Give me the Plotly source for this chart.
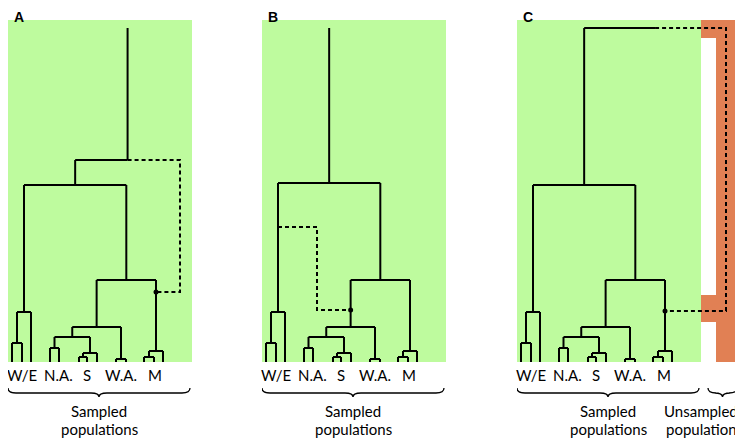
import plotly.graph_objects as go

# ---------------- data ----------------
leaf_labels = ["W/E", "N.A.", "S", "W.A.", "M"]
label_x = [14, 50, 79, 113, 147]          # label centres on the tree axis
leaf_x = [4, 14, 23, 42, 51, 71, 79, 89, 108, 118, 136, 146, 155]  # leaf positions
# internal nodes of the sampled tree: (left child, right child, height)
node_names = ["we_in", "we", "na", "s_in", "s", "nas", "wa", "nasw", "m_in", "m", "clade"]
node_left = ["L0", "we_in", "L3", "L5", "s_in", "na", "L8", "nas", "L10", "m_in", "nasw"]
node_right = ["L1", "L2", "L4", "L6", "L7", "s", "L9", "wa", "L11", "L12", "m"]
node_height = [19, 50, 14, 5, 9, 25, 3, 35, 5, 11, 82]

root_height = 334
split_height = [177, 179, 177]             # W/E vs rest split, panels A, B, C
# panel A: ghost ancestor
a_anc_height, a_ghost_x, a_mig_height = 202, 172, 70
# panel B: migration from W/E branch into N.A./S/W.A. branch
b_src_height, b_bend_x, b_mig_height = 135, 55, 52
# panel C: unsampled population
c_unsampled_x, c_mig_height = 209, 51

panel_letters = ["A", "B", "C"]
group_lines = [["Sampled", "populations"], ["Unsampled", "population"]]

GREEN = "rgb(190,251,158)"
ORANGE = "rgb(225,128,84)"
FONT = "Lato"

# page body has an 8px margin -> figure is 8px smaller, coordinates shifted
OFF = 8
W, H = 743 - OFF, 439 - OFF
fig = go.Figure()

# axes: 1 unit = 1 px
panel_left = [8 - OFF, 262 - OFF, 517 - OFF]
panel_width = [184, 184, 222]
y_lo, y_hi = -77, 362 - OFF
axes_ids = ["x", "x2", "x3"]
for i, (pl, pw) in enumerate(zip(panel_left, panel_width)):
    key = "xaxis" if i == 0 else f"xaxis{i+1}"
    fig.layout[key] = dict(domain=[pl / W, (pl + pw) / W], range=[0, pw],
                           visible=False, fixedrange=True)
fig.layout.yaxis = dict(domain=[0, 1], range=[y_lo, y_hi], visible=False, fixedrange=True)


def build_tree():
    pos = {f"L{i}": (x, 0) for i, x in enumerate(leaf_x)}
    segs = []
    for n, l, r, h in zip(node_names, node_left, node_right, node_height):
        lx, lh = pos[l]
        rx, rh = pos[r]
        segs.append(([lx, lx], [lh, h]))
        segs.append(([rx, rx], [rh, h]))
        segs.append(([lx, rx], [h, h]))
        pos[n] = ((lx + rx) / 2, h)
    return pos, segs


def add_lines(segs, xref, dash="solid"):
    xs, ys = [], []
    for sx, sy in segs:
        xs += sx + [None]
        ys += sy + [None]
    fig.add_trace(go.Scatter(x=xs, y=ys, xaxis=xref, yaxis="y", mode="lines",
                             line=dict(color="black", width=2, dash=dash),
                             hoverinfo="skip", showlegend=False))


def add_dot(x, y, xref):
    fig.add_trace(go.Scatter(x=[x], y=[y], xaxis=xref, yaxis="y", mode="markers",
                             marker=dict(color="black", size=5),
                             hoverinfo="skip", showlegend=False))


def brace(x0, x1, xref):
    top, mid, bot = -26, -31, -35
    xc = (x0 + x1) / 2
    r = 8
    p = (f"M {x0},{top} Q {x0},{mid} {x0+r},{mid} L {xc-r},{mid} Q {xc},{mid} {xc},{bot} "
         f"Q {xc},{mid} {xc+r},{mid} L {x1-r},{mid} Q {x1},{mid} {x1},{top}")
    fig.add_shape(type="path", path=p, xref=xref, yref="y",
                  line=dict(color="black", width=1.3))


def two_lines(lines, x, xref):
    for k, txt in enumerate(lines):
        fig.add_annotation(x=x, y=-48.5 - 18 * k, xref=xref, yref="y", text=txt, showarrow=False,
                           font=dict(family=FONT, size=15, color="black"), borderpad=0,
                           xanchor="center", yanchor="middle")


dash = "4px,3px"
for i, xref in enumerate(axes_ids):
    # green background
    fig.add_shape(type="rect", x0=0, x1=184, y0=0, y1=342, xref=xref, yref="y",
                  fillcolor=GREEN, line_width=0, layer="below")
    pos, segs = build_tree()
    we_x = pos["we"][0]
    cl_x = pos["clade"][0]
    sh = split_height[i]
    main_x = (we_x + cl_x) / 2
    segs += [([we_x, we_x], [pos["we"][1], sh]), ([cl_x, cl_x], [pos["clade"][1], sh]),
             ([we_x, cl_x], [sh, sh])]
    dsegs = []
    if i == 0:
        anc_x = (main_x + a_ghost_x) / 2
        segs += [([main_x, main_x], [sh, a_anc_height]), ([main_x, anc_x], [a_anc_height, a_anc_height]),
                 ([anc_x, anc_x], [a_anc_height, root_height])]
        mx = pos["m"][0]
        dsegs += [([anc_x, a_ghost_x, a_ghost_x, mx], [a_anc_height, a_anc_height, a_mig_height, a_mig_height])]
        add_lines(segs, xref)
        add_lines(dsegs, xref, dash)
        add_dot(mx, a_mig_height, xref)
    elif i == 1:
        segs += [([main_x, main_x], [sh, root_height])]
        tx = pos["nasw"][0]
        dsegs += [([we_x, b_bend_x, b_bend_x, tx], [b_src_height, b_src_height, b_mig_height, b_mig_height])]
        add_lines(segs, xref)
        add_lines(dsegs, xref, dash)
        add_dot(tx, b_mig_height, xref)
    else:
        # orange unsampled population
        p = ("M 184,342 L 222,342 L 222,0 L 199,0 L 199,40 L 184,40 L 184,67 L 199,67 "
             "L 199,324 L 184,324 Z")
        fig.add_shape(type="path", path=p, xref=xref, yref="y", fillcolor=ORANGE,
                      line_width=0, layer="below")
        root_x = (main_x + c_unsampled_x) / 2
        segs += [([main_x, main_x], [sh, root_height]), ([main_x, root_x], [root_height, root_height])]
        mx = pos["m"][0]
        dsegs += [([root_x, c_unsampled_x, c_unsampled_x, mx],
                   [root_height, root_height, c_mig_height, c_mig_height])]
        add_lines(segs, xref)
        add_lines(dsegs, xref, dash)
        add_dot(mx, c_mig_height, xref)

    # leaf labels
    for lab, lx in zip(leaf_labels, label_x):
        fig.add_annotation(x=lx, y=-13, xref=xref, yref="y", text=lab, showarrow=False,
                           font=dict(family=FONT, size=15, color="black"),
                           xanchor="center", yanchor="middle")
    # braces + group text
    brace(0, 182, xref)
    two_lines(group_lines[0], 91, xref)
    if i == 2:
        brace(191, 220, xref)
        two_lines(group_lines[1], 184, xref)
    # panel letter
    fig.add_annotation(x=11, y=y_hi, xref=xref, yref="y", text=f"<b>{panel_letters[i]}</b>",
                       showarrow=False, borderpad=0,
                       font=dict(family="Liberation Sans", size=14, color="black"),
                       xanchor="center", yanchor="top")

fig.update_layout(width=W, height=H, margin=dict(l=0, r=0, t=0, b=0, pad=0),
                  paper_bgcolor="white", plot_bgcolor="white", showlegend=False)
fig.write_html("out.html")
